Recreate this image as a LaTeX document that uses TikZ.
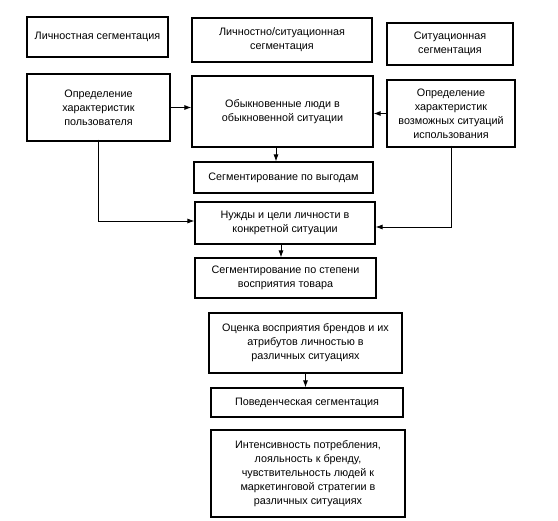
\documentclass[tikz,border=0pt]{standalone}
\usepackage{fontspec}
\setmainfont{Liberation Sans}
\usetikzlibrary{arrows.meta,positioning,calc}
\begin{document}
\begin{tikzpicture}[x=1pt,y=-1pt,
  box/.style={draw,line width=1.1pt,align=center,inner sep=2pt,font=\fontsize{10.8}{14}\selectfont},
  arr/.style={line width=0.9pt,-{Latex[length=7pt,width=5pt]}},
  ln/.style={line width=0.9pt}]
\useasboundingbox[fill=white] (0,0) rectangle (558,521);
\node[box,minimum width=141pt,minimum height=40pt] (A) at (97.5,37) {Личностная сегментация};
\node[box,minimum width=180pt,minimum height=44pt] (B) at (282,40) {Личностно/ситуационная\\сегментация};
\node[box,minimum width=126pt,minimum height=42pt] (C) at (450,44) {Ситуационная\\сегментация};
\node[box,minimum width=143pt,minimum height=67pt] (D) at (98.5,107.5) {Определение\\характеристик\\пользователя};
\node[box,minimum width=181pt,minimum height=71pt] (E) at (282.5,111.5) {Обыкновенные люди в\\обыкновенной ситуации};
\node[box,minimum width=128pt,minimum height=67pt] (F) at (451,113.5) {Определение\\характеристик\\возможных ситуаций\\использования};
\node[box,minimum width=179pt,minimum height=31pt] (G) at (283.5,177.5) {Сегментирование по выгодам};
\node[box,minimum width=180pt,minimum height=42pt] (H) at (285,223) {Нужды и цели личности в\\конкретной ситуации};
\node[box,minimum width=181pt,minimum height=40pt] (I) at (285.5,278) {Сегментирование по степени\\восприятия товара};
\node[box,minimum width=193pt,minimum height=60pt] (J) at (305.5,343) {Оценка восприятия брендов и их\\атрибутов личностью в\\различных ситуациях};
\node[box,minimum width=192pt,minimum height=29pt] (K) at (307,402.5) {Поведенческая сегментация};
\node[box,minimum width=194pt,minimum height=87pt] (L) at (308,473.5) {Интенсивность потребления,\\лояльность к бренду,\\чувствительность людей к\\маркетинговой стратегии в\\различных ситуациях};
\draw[arr] (D.east) -- (D.east -| E.west);
\draw[arr] (F.west) -- (F.west -| E.east);
\draw[arr] ([xshift=-6.5pt]E.south) -- ([xshift=-6.5pt]E.south |- G.north);
\draw[arr] ([yshift=2pt]D.south) |- ([yshift=2pt]H.west);
\draw[arr] ([yshift=2pt]F.south) |- ([yshift=-4pt]H.east);
\draw[arr] ([xshift=-4pt]H.south) -- ([xshift=-4pt]H.south |- I.north);
\draw[arr] (J.south) -- (J.south |- K.north);
\end{tikzpicture}
\end{document}
